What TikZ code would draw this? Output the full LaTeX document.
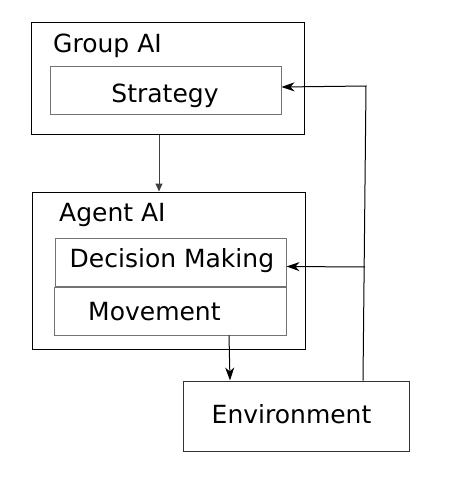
\documentclass[tikz,border=0pt]{standalone}
\usepackage{fontspec}
\setmainfont{DejaVu Sans}
\usetikzlibrary{arrows.meta}
\begin{document}
\begin{tikzpicture}[x=1pt,y=-1pt,
  innerbox/.style={draw=black!55,line width=1pt,inner sep=0pt},
  lbl/.style={anchor=base west,inner sep=0pt,font=\fontsize{25}{28}\selectfont},
  clbl/.style={anchor=base,inner sep=0pt,font=\fontsize{25}{28}\selectfont},
  tri/.style={-{Triangle[length=8pt,width=7pt]},line width=1pt,draw=black!75},
  stl/.style={-{Stealth[length=13pt,width=9pt,inset=4pt]},line width=1pt}]
\useasboundingbox (0,0) rectangle (450,490);
% boxes
\node[draw=black,line width=1pt,inner sep=0pt,minimum width=273pt,minimum height=112pt] (group) at (167.5,78) {};
\node[innerbox,minimum width=231pt,minimum height=48pt] (strategy) at (165.5,90) {};
\node[draw=black,line width=1pt,inner sep=0pt,minimum width=273pt,minimum height=157pt] (agent) at (168.5,270.5) {};
\node[innerbox,minimum width=231pt,minimum height=48pt] (decision) at (170.5,262) {};
\node[innerbox,minimum width=232pt,minimum height=48pt] (movement) at (170,311) {};
\node[draw=black!80,line width=1pt,inner sep=0pt,minimum width=226pt,minimum height=70pt] (env) at (296,416) {};
% labels
\node[lbl] (tgroup) at (53,52) {Group AI};
\node[clbl] (tstrategy) at (165,102) {Strategy};
\node[lbl] (tagent) at (59,221) {Agent AI};
\node[lbl] (tdecision) at (69.5,267.5) {Decision Making};
\node[lbl] (tmovement) at (88,320) {Movement};
\node[lbl] (tenv) at (211.5,423.5) {Environment};
% helper coordinates
\coordinate (cx1) at (159,0);
\coordinate (cx2) at (229,0);
\coordinate (cx3) at (230,0);
\coordinate (cx4) at (363,0);
\coordinate (top) at (366,86);
\coordinate (mid) at (365,267);
% connectors
\draw[tri] (group.south -| cx1) -- (agent.north -| cx1);
\draw[stl] (movement.south -| cx2) -- (env.north -| cx3);
\draw[stl] (env.north -| cx4) -- (top) -- ([yshift=3pt]strategy.east);
\draw[stl] (mid) -- ([yshift=-4.5pt]decision.east);
\end{tikzpicture}
\end{document}
